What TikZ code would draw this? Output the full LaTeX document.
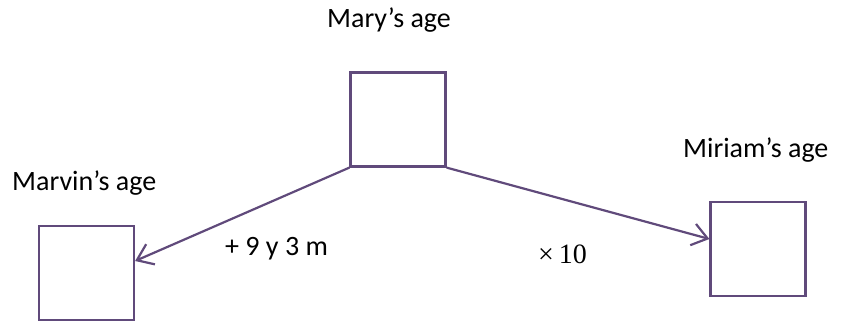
\documentclass[tikz,border=0pt]{standalone}
\usepackage{fontspec}
\setmainfont{Carlito}
\newfontfamily\opfont{Liberation Serif}
\usetikzlibrary{arrows.meta}
\definecolor{boxpurple}{HTML}{604A7B}
\begin{document}
\begin{tikzpicture}[x=1pt,y=-1pt,
  agebox/.style={draw=boxpurple,line width=2.2pt,minimum width=95pt,minimum height=94pt,inner sep=0pt},
  lbl/.style={anchor=base west,inner sep=0pt,font=\fontsize{28}{32}\selectfont},
  link/.style={draw=boxpurple,line width=2.2pt,-{Straight Barb[length=15pt,width=22pt,line width=2.2pt]}}]
\useasboundingbox (0,0) rectangle (841,322);
\node[agebox] (mary) at (398,119.5) {};
\node[agebox] (marvin) at (86.5,273) {};
\node[agebox] (miriam) at (758,249) {};
\node[lbl] (marylbl) at (327,27) {Mary’s age};
\node[lbl] (marvinlbl) at (12,190) {Marvin’s age};
\node[lbl] (miriamlbl) at (683,157) {Miriam’s age};
\node[lbl] (addlbl) at (225,255) {+ 9 y 3 m};
\node[lbl,font=\opfont\fontsize{28}{30}\selectfont] (mullbl) at (538,263) {×\hspace{5pt}10};
\draw[link] (mary.south west) -- ([yshift=12pt]marvin.east);
\draw[link] (mary.south east) -- ([yshift=10pt]miriam.west);
\end{tikzpicture}
\end{document}
